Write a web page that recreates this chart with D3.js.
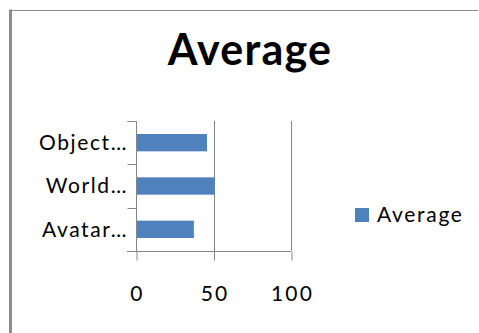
<!DOCTYPE html>
<html lang="en">
<head>
<meta charset="UTF-8">
<title>Average</title>
<script src="https://d3js.org/d3.v7.min.js"></script>
<style>
  html, body { margin: 0; padding: 0; background: #fff; }
  svg { display: block; font-family: Lato, "Open Sans", sans-serif; }
</style>
</head>
<body>
<svg width="479" height="333"></svg>
<script>
  // data
  const categories = ["Avatar…", "World…", "Object…"];
  const averages = [37, 50.5, 45.5];
  const xTicks = [0, 50, 100];
  const seriesName = "Average";

  const svg = d3.select("svg");
  const grey = "#868686";
  const barColor = "#4F81BD";

  // chart frame (only the top and left edges show)
  svg.append("line").attr("x1", 10.5).attr("x2", 10.5).attr("y1", 9.5).attr("y2", 333)
      .attr("stroke", "#8c8c8c").attr("stroke-width", 3);
  svg.append("line").attr("x1", 9).attr("x2", 478).attr("y1", 10.5).attr("y2", 10.5)
      .attr("stroke", "#8c8c8c").attr("stroke-width", 1.2);

  // title
  svg.append("text").attr("x", 250).attr("y", 65)
      .attr("text-anchor", "middle").attr("font-size", 43).attr("font-weight", "bold")
      .attr("letter-spacing", 1.2)
      .attr("fill", "#000").text(seriesName);

  const x = d3.scaleLinear().domain([0, 100]).range([136, 291]);
  const y = d3.scaleBand().domain(categories.slice().reverse()).range([121, 251])
      .paddingInner(0.6).paddingOuter(0.3);

  // vertical gridlines
  svg.append("g").selectAll("line").data(xTicks.slice(1)).join("line")
      .attr("x1", d => Math.round(x(d)) + 0.5).attr("x2", d => Math.round(x(d)) + 0.5)
      .attr("y1", 121).attr("y2", 251)
      .attr("stroke", grey).attr("stroke-width", 1);

  // bars
  svg.append("g").selectAll("rect").data(categories).join("rect")
      .attr("x", x(0) + 0.5)
      .attr("y", d => y(d))
      .attr("width", (d, i) => x(averages[i]) - x(0))
      .attr("height", y.bandwidth())
      .attr("fill", barColor);

  // x axis
  const xAxis = svg.append("g").attr("transform", "translate(0,251.5)")
      .call(d3.axisBottom(x).tickValues(xTicks).tickSize(9).tickPadding(26).tickFormat(d3.format("d")));
  xAxis.select(".domain").remove();
  xAxis.append("line").attr("x1", 127).attr("x2", 291).attr("stroke", grey);
  xAxis.selectAll(".tick line").attr("stroke", grey)
      .attr("transform", "translate(0.5,0)");
  xAxis.selectAll(".tick text").attr("font-size", 21).attr("font-family", "Lato, sans-serif")
      .attr("letter-spacing", 2.2).attr("dx", 1)
      .attr("fill", "#000");

  // y axis: ticks on the band boundaries
  const yAxis = svg.append("g").attr("transform", "translate(136.5,0)");
  yAxis.append("line").attr("y1", 121).attr("y2", 251).attr("stroke", grey);
  const bounds = [121, ...categories.map(c => y(c) - y.step() * y.paddingInner() / 2)];
  yAxis.selectAll(".bnd").data(bounds).join("line")
      .attr("class", "bnd")
      .attr("x1", -9).attr("x2", 0)
      .attr("y1", d => Math.round(d) + 0.5).attr("y2", d => Math.round(d) + 0.5)
      .attr("stroke", grey);
  yAxis.selectAll("text").data(categories).join("text")
      .attr("x", -8.5).attr("y", d => y(d) + y.bandwidth() / 2)
      .attr("dy", "0.35em").attr("text-anchor", "end")
      .attr("letter-spacing", 1.6)
      .attr("font-size", 21).attr("fill", "#000").text(d => d);

  // legend
  const legend = svg.append("g").attr("transform", "translate(355,208)");
  legend.append("rect").attr("width", 14).attr("height", 14).attr("fill", barColor);
  legend.append("text").attr("x", 22).attr("y", 7).attr("dy", "0.35em")
      .attr("letter-spacing", 1.7)
      .attr("font-size", 21).attr("fill", "#000").text(seriesName);
</script>
</body>
</html>
